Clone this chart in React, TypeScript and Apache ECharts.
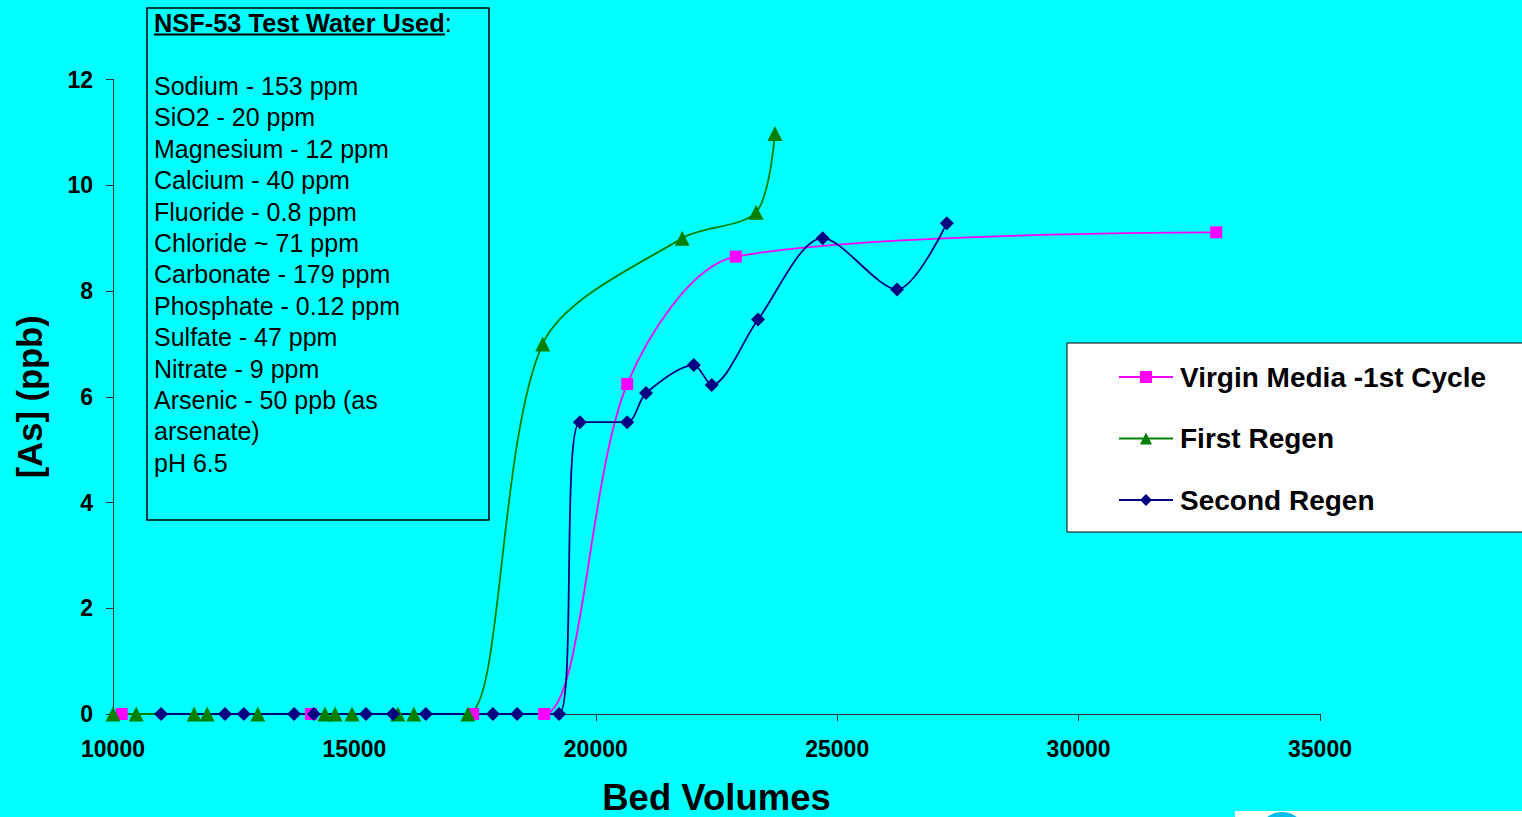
import React, { useEffect, useRef } from "react";
import * as echarts from "echarts";

// Bed volumes (x) and arsenic concentration in ppb (y) for each run
const virginX = [10180, 14100, 17460, 18930, 20650, 22900, 32850];
const virginY = [0, 0, 0, 0, 6.24, 8.65, 9.11];

const firstRegenX = [10000, 10480, 11680, 11950, 13000, 14390, 14600, 14950, 15900, 16230, 17350, 18900, 21790, 23320, 23710];
const firstRegenY = [0, 0, 0, 0, 0, 0, 0, 0, 0, 0, 0, 7.0, 9.0, 9.49, 10.98];

const secondRegenX = [10995, 12320, 12710, 13750, 14160, 15240, 15800, 16480, 17870, 18370, 19240, 19670, 20650, 21040, 22030, 22400, 23360, 24700, 26240, 27270];
const secondRegenY = [0, 0, 0, 0, 0, 0, 0, 0, 0, 0, 0, 5.52, 5.52, 6.07, 6.6, 6.22, 7.46, 9.0, 8.03, 9.28];

const seriesNames = ["Virgin Media -1st Cycle", "First Regen", "Second Regen"];

const boxTitle = "NSF-53 Test Water Used";
const waterLines = [
  "Sodium - 153 ppm",
  "SiO2 - 20 ppm",
  "Magnesium - 12 ppm",
  "Calcium - 40 ppm",
  "Fluoride - 0.8 ppm",
  "Chloride ~ 71 ppm",
  "Carbonate - 179 ppm",
  "Phosphate - 0.12 ppm",
  "Sulfate - 47 ppm",
  "Nitrate - 9 ppm",
  "Arsenic - 50 ppb (as",
  "arsenate)",
  "pH 6.5",
];

const FONT = "'Liberation Sans', Arial, sans-serif";

const zip = (xs: number[], ys: number[]) => xs.map((x, i) => [x, ys[i]]);

export default function App() {
  const ref = useRef<HTMLDivElement>(null);

  useEffect(() => {
    document.body.style.margin = "0";
    const chart = echarts.init(ref.current!, null, { renderer: "svg" });

    const lineSeries = (name: string, data: number[][], color: string, symbol: string, size: number) => ({
      name,
      type: "line",
      data,
      smooth: 0.3,
      clip: false,
      symbol,
      symbolSize: size,
      showSymbol: true,
      lineStyle: { color, width: 1.8 },
      itemStyle: { color, borderWidth: 0 },
      emphasis: { disabled: true },
    });

    chart.setOption({
      animation: false,
      backgroundColor: "#00FFFF",
      textStyle: { fontFamily: FONT },
      grid: { left: 113, right: 202, top: 79.5, bottom: 103, outerBoundsMode: "none", containLabel: false },
      xAxis: {
        type: "value",
        min: 10000,
        max: 35000,
        interval: 5000,
        name: "Bed Volumes",
        nameLocation: "middle",
        nameGap: 65,
        nameTextStyle: { fontSize: 36.5, fontWeight: "bold", color: "#000", fontFamily: FONT },
        axisLine: { show: true, lineStyle: { color: "#333", width: 1 } },
        axisTick: { show: true, length: 7, lineStyle: { color: "#333" } },
        axisLabel: {
          fontSize: 23,
          fontWeight: "bold",
          color: "#000",
          margin: 23,
          fontFamily: FONT,
          formatter: (v: number) => String(v),
        },
        splitLine: { show: false },
      },
      yAxis: {
        type: "value",
        min: 0,
        max: 12,
        interval: 2,
        name: "[As] (ppb)",
        nameLocation: "middle",
        nameRotate: 90,
        nameGap: 66,
        nameTextStyle: { fontSize: 34.5, fontWeight: "bold", color: "#000", fontFamily: FONT },
        axisLine: { show: true, lineStyle: { color: "#333", width: 1 } },
        axisTick: { show: true, length: 7, lineStyle: { color: "#333" } },
        axisLabel: { fontSize: 23, fontWeight: "bold", color: "#000", margin: 20, fontFamily: FONT },
        splitLine: { show: false },
      },
      legend: {
        orient: "vertical",
        left: 1067,
        top: 343,
        backgroundColor: "#fff",
        borderColor: "#000",
        borderWidth: 1,
        borderRadius: 0,
        padding: [19, 200, 17, 51],
        itemWidth: 54,
        itemHeight: 15,
        itemGap: 31.5,
        selectedMode: false,
        textStyle: {
          fontSize: 28,
          fontWeight: "bold",
          color: "#000",
          fontFamily: FONT,
          lineHeight: 30,
          padding: [0, 0, 0, 2],
        },
        data: seriesNames,
      },
      series: [
        lineSeries(seriesNames[0], zip(virginX, virginY), "#FF00FF", "rect", 12),
        lineSeries(seriesNames[1], zip(firstRegenX, firstRegenY), "#008000", "triangle", 15),
        lineSeries(seriesNames[2], zip(secondRegenX, secondRegenY), "#000080", "diamond", 14),
      ],
      graphic: [
        {
          type: "rect",
          shape: { x: 147, y: 8, width: 342, height: 512 },
          style: { fill: "none", stroke: "#000", lineWidth: 1.5 },
          silent: true,
        },
        {
          type: "text",
          x: 154,
          y: 23,
          style: {
            text: `{b|${boxTitle}}{n|:}`,
            verticalAlign: "middle",
            align: "left",
            rich: {
              b: { fontSize: 25.4, fontWeight: "bold", fill: "#000", fontFamily: FONT },
              n: { fontSize: 25, fill: "#000", fontFamily: FONT },
            },
          },
          silent: true,
        },
        {
          type: "line",
          shape: { x1: 154, y1: 34.5, x2: 445, y2: 34.5 },
          style: { stroke: "#000", lineWidth: 2 },
          silent: true,
        },
        {
          type: "text",
          x: 154,
          y: 70.3,
          style: {
            text: waterLines.join("\n"),
            font: `25px ${FONT}`,
            lineHeight: 31.4,
            fill: "#000",
            align: "left",
            verticalAlign: "top",
          },
          silent: true,
        },
        {
          type: "rect",
          shape: { x: 1235, y: 811, width: 300, height: 10 },
          style: { fill: "#fff" },
          silent: true,
        },
        {
          type: "circle",
          shape: { cx: 1282, cy: 836, r: 24 },
          style: { fill: "#00BFEF" },
          silent: true,
        },
      ],
    });

    return () => chart.dispose();
  }, []);

  return <div ref={ref} style={{ position: "fixed", left: 0, top: 0, width: 1522, height: 817 }} />;
}
